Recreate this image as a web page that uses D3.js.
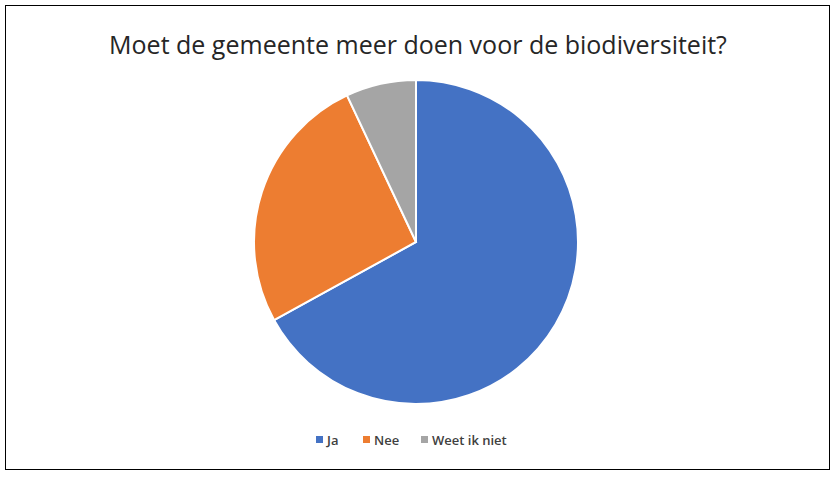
<!DOCTYPE html>
<html><head><meta charset="utf-8">
<script src="https://cdn.jsdelivr.net/npm/d3@7"></script>
<style>body{margin:0;background:#fff}</style>
</head><body>
<svg id="chart" width="836" height="477"></svg>
<script>
const categories = ["Ja", "Nee", "Weet ik niet"];
const values = [67, 26, 7];
const colors = ["#4472C4", "#ED7D31", "#A5A5A5"];

const svg = d3.select("#chart");
svg.append("rect").attr("x", 5.5).attr("y", 5.5).attr("width", 824).attr("height", 464)
    .attr("fill", "#fff").attr("stroke", "#000").attr("stroke-width", 1);

svg.append("text").attr("x", 418).attr("y", 54).attr("text-anchor", "middle")
    .attr("font-family", "Open Sans, Liberation Sans, sans-serif").attr("font-size", 25)
    .attr("fill", "#262626").text("Moet de gemeente meer doen voor de biodiversiteit?");

const pie = d3.pie().sort(null)(values);
const arc = d3.arc().innerRadius(0).outerRadius(162);
svg.append("g").attr("transform", "translate(416,242)")
    .selectAll("path").data(pie).join("path")
    .attr("d", arc).attr("fill", (d, i) => colors[i])
    .attr("stroke", "#fff").attr("stroke-width", 2);

const legendX = [316, 363, 421];
const legend = svg.append("g").selectAll("g").data(categories).join("g")
    .attr("transform", (d, i) => `translate(${legendX[i]},440)`);
legend.append("rect").attr("x", 0).attr("y", -4).attr("width", 7).attr("height", 7)
    .attr("fill", (d, i) => colors[i]);
legend.append("text").attr("x", 11).attr("y", 5)
    .attr("font-family", "Open Sans, Liberation Sans, sans-serif").attr("font-size", 13)
    .attr("font-weight", 600).attr("fill", "#404040").text(d => d);
</script>
</body></html>
